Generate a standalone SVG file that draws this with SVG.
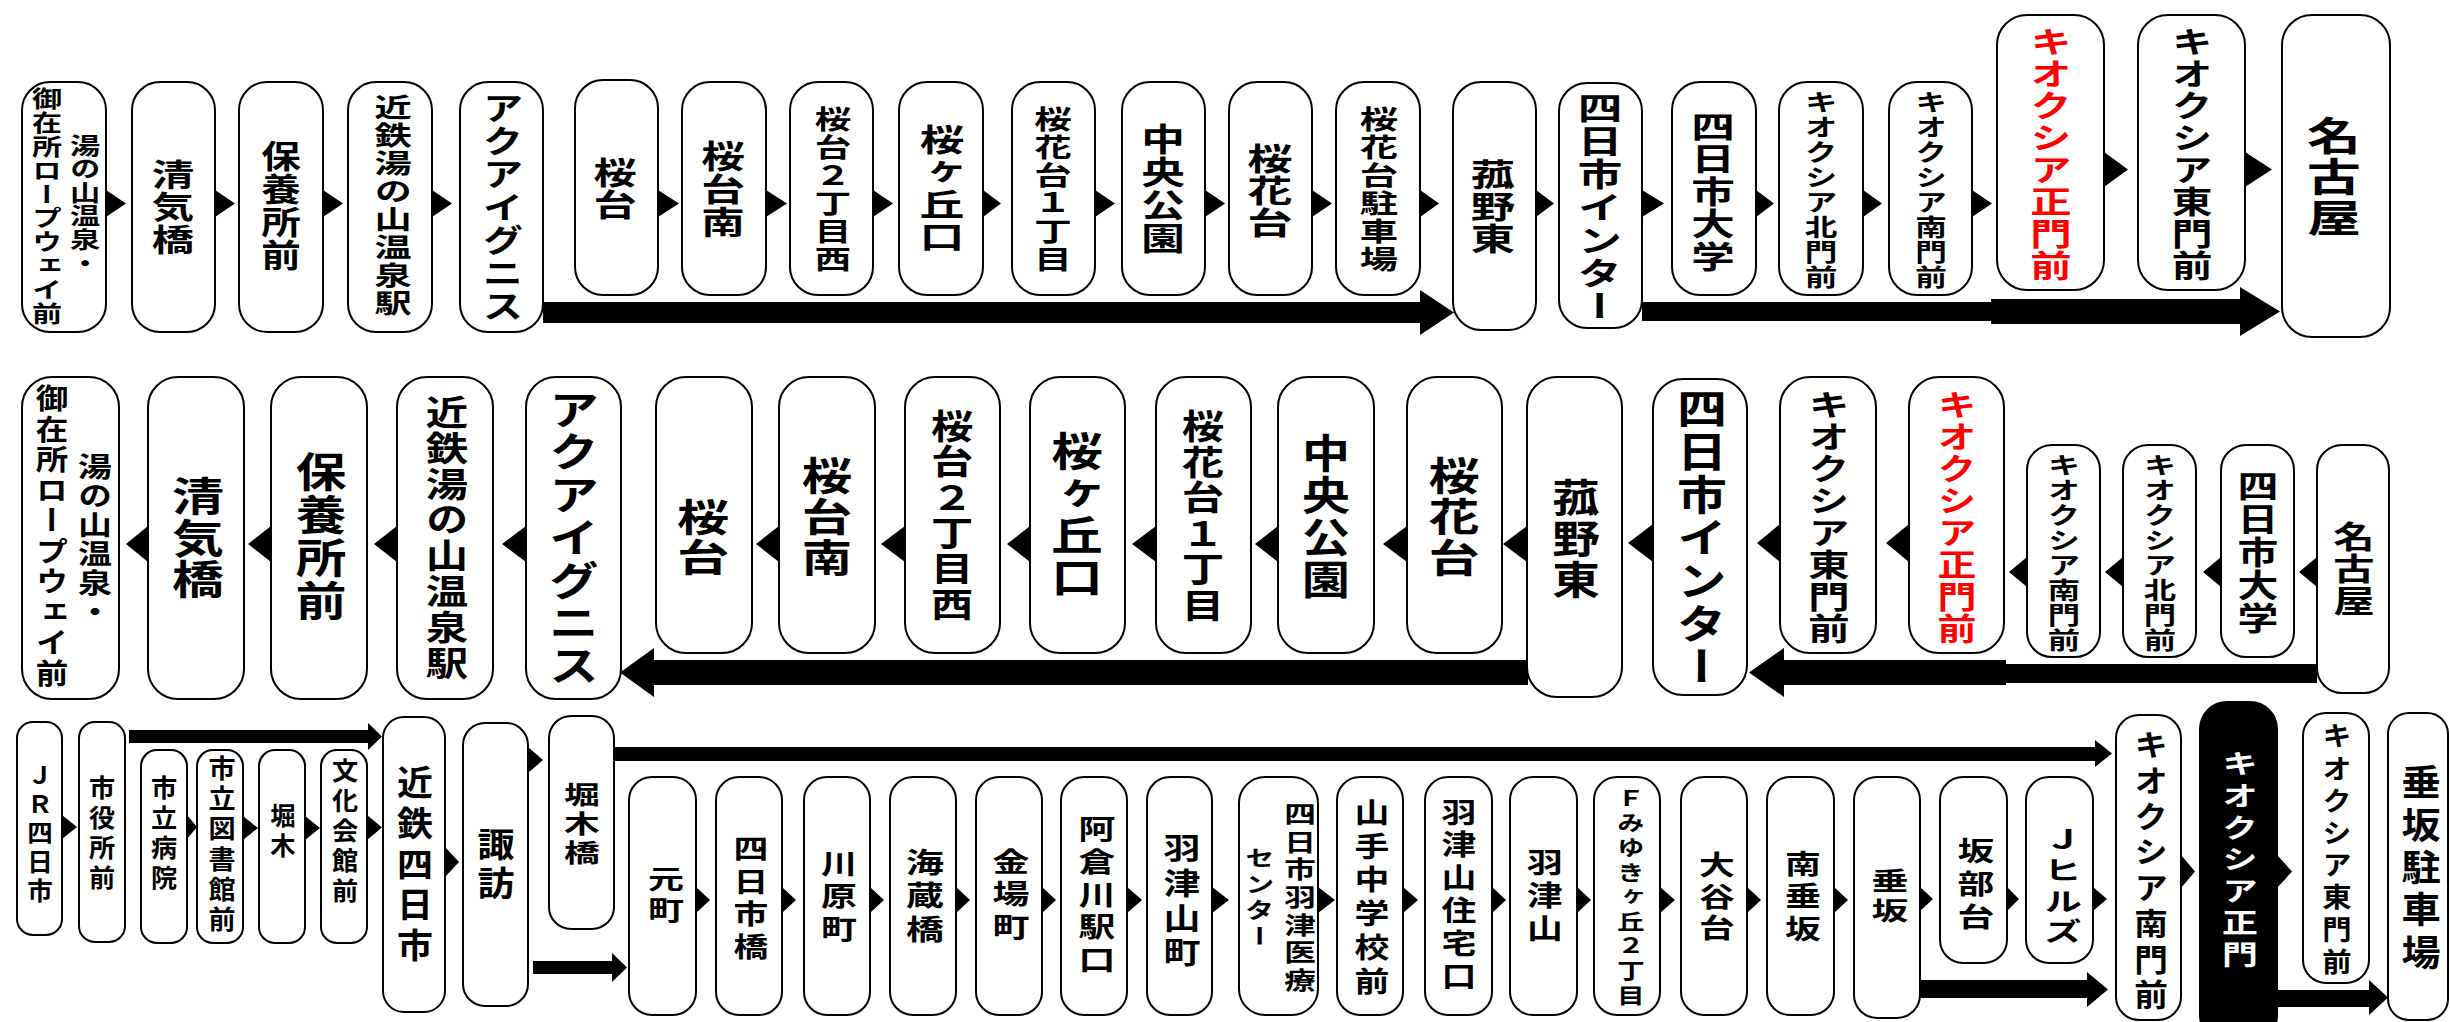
<svg xmlns="http://www.w3.org/2000/svg" width="2450" height="1022" viewBox="0 0 2450 1022">
<style>
.n rect{fill:#fff;stroke:#000;stroke-width:2}
.dk rect{fill:#000;stroke:#000;stroke-width:2}
.t{font-family:"Noto Sans CJK JP","Noto Sans CJK SC",sans-serif;font-weight:700;writing-mode:vertical-rl;text-anchor:middle;fill:#000}
.red{fill:#ff0000}
.wt{fill:#fff}
#connectors polygon{fill:#000}
</style>
<rect width="2450" height="1022" fill="#fff"/>
<g id="connectors">
<polygon points="106,190 126,203.5 106,217"/>
<polygon points="215,190 235,203.5 215,217"/>
<polygon points="323,190 343,203.5 323,217"/>
<polygon points="432,190 452,203.5 432,217"/>
<polygon points="658,190 679,203.5 658,217"/>
<polygon points="766,190 787,203.5 766,217"/>
<polygon points="873,190 893,203.5 873,217"/>
<polygon points="983,190 1001,203.5 983,217"/>
<polygon points="1095,190 1115,203.5 1095,217"/>
<polygon points="1205,190 1225,203.5 1205,217"/>
<polygon points="1312,190 1332,203.5 1312,217"/>
<polygon points="1420,190 1439,203.5 1420,217"/>
<polygon points="1536,190 1554,203.5 1536,217"/>
<polygon points="1642,190 1664,203.5 1642,217"/>
<polygon points="1756,190 1774,203.5 1756,217"/>
<polygon points="1863,190 1882,203.5 1863,217"/>
<polygon points="1972,190 1992,203.5 1972,217"/>
<polygon points="2104,152 2128,169.5 2104,187"/>
<polygon points="2245,152 2272,169.5 2245,187"/>
<polygon points="543,302 1420,302 1420,290 1454,312.5 1420,335 1420,323 543,323"/>
<polygon points="1642,302 1991,302 1991,299 2240,299 2240,287 2280,311.5 2240,336 2240,324 1991,324 1991,321 1642,321"/>
<polygon points="148,526 126,544 148,562"/>
<polygon points="271,526 248,544 271,562"/>
<polygon points="397,526 374,544 397,562"/>
<polygon points="526,526 502,544 526,562"/>
<polygon points="779,526 756,544 779,562"/>
<polygon points="905,526 881,544 905,562"/>
<polygon points="1030,526 1007,544 1030,562"/>
<polygon points="1156,526 1132,544 1156,562"/>
<polygon points="1278,526 1255,544 1278,562"/>
<polygon points="1407,526 1383,544 1407,562"/>
<polygon points="1527,526 1503,544 1527,562"/>
<polygon points="1653,524 1628,543 1653,562"/>
<polygon points="1780,524 1757,543 1780,562"/>
<polygon points="1909,524 1886,543 1909,562"/>
<polygon points="2027,557 2009,572 2027,587"/>
<polygon points="2123,557 2105,572 2123,587"/>
<polygon points="2221,557 2203,572 2221,587"/>
<polygon points="2317,557 2299,572 2317,587"/>
<polygon points="2317,664 2006,664 2006,660 1784,660 1784,648 1749,672.5 1784,697 1784,685 2006,685 2006,683 2317,683"/>
<polygon points="1528,660 654,660 654,648 620,672.5 654,697 654,685 1528,685"/>
<polygon points="62,815 77,827 62,839"/>
<polygon points="187,815 197,827 187,839"/>
<polygon points="243,816 258,828 243,840"/>
<polygon points="305,816 320,828 305,840"/>
<polygon points="367,815 382,827.5 367,840"/>
<polygon points="445,847 459,862 445,877"/>
<polygon points="528,747 543,760 528,773"/>
<polygon points="696,887 710,900 696,913"/>
<polygon points="782,887 796,900 782,913"/>
<polygon points="870,887 884,900 870,913"/>
<polygon points="956,887 970,900 956,913"/>
<polygon points="1042,887 1056,900 1042,913"/>
<polygon points="1127,887 1142,900 1127,913"/>
<polygon points="1212,887 1229,900 1212,913"/>
<polygon points="1318,887 1335,900 1318,913"/>
<polygon points="1403,887 1418,900 1403,913"/>
<polygon points="1492,887 1506,900 1492,913"/>
<polygon points="1577,887 1591,900 1577,913"/>
<polygon points="1660,887 1675,900 1660,913"/>
<polygon points="1747,887 1761,900 1747,913"/>
<polygon points="1834,887 1848,900 1834,913"/>
<polygon points="1920,887 1933,899 1920,911"/>
<polygon points="2007,887 2019,899 2007,911"/>
<polygon points="2093,887 2107,899 2093,911"/>
<polygon points="2181,855 2195,871.5 2181,888"/>
<polygon points="2277,855 2292,871.5 2277,888"/>
<polygon points="129,730 368,730 368,723 382,736.5 368,750 368,743 129,743"/>
<polygon points="533,961 612,961 612,953 627,967.5 612,982 612,974 533,974"/>
<polygon points="615,747 2095,747 2095,740 2112,753.5 2095,767 2095,761 615,761"/>
<polygon points="1920,980 2087,980 2087,972 2108,989.5 2087,1007 2087,998 1920,998"/>
<polygon points="2277,990 2369,990 2369,980 2388,997.5 2369,1015 2369,1007 2277,1007"/>
</g>

<g id="r1-yunoyama" class="n"><rect x="22" y="82" width="84" height="250" rx="28"/>
<text class="t" transform="translate(85 204.6) scale(1.35 1)" font-size="22.4" letter-spacing="1.2">湯の山温泉・</text>
<text class="t" transform="translate(47 206.6) scale(1.33 1)" font-size="22.6" letter-spacing="1.2">御在所ロープウェイ前</text></g>
<g id="r1-seikibashi" class="n"><rect x="132" y="82" width="83" height="250" rx="28"/>
<text class="t" transform="translate(173 207.3) scale(1.37 1)" font-size="30.9" letter-spacing="1.6">清気橋</text></g>
<g id="r1-hoyosyo" class="n"><rect x="239" y="82" width="84" height="250" rx="28"/>
<text class="t" transform="translate(281 206.8) scale(1.26 1)" font-size="31.4" letter-spacing="1.6">保養所前</text></g>
<g id="r1-kintetsuyunoyama" class="n"><rect x="348" y="82" width="84" height="250" rx="28"/>
<text class="t" transform="translate(393 205.7) scale(1.4 1)" font-size="26.6" letter-spacing="1.4">近鉄湯の山温泉駅</text></g>
<g id="r1-aquaignis" class="n"><rect x="460" y="82" width="83" height="250" rx="28"/>
<text class="t" transform="translate(503 208.3) scale(1.3 1)" font-size="31.4" letter-spacing="1.6">アクアイグニス</text></g>
<g id="r1-sakuradai" class="n"><rect x="575" y="80" width="83" height="215" rx="28"/>
<text class="t" transform="translate(615 189.3) scale(1.42 1)" font-size="30.4" letter-spacing="1.6">桜台</text></g>
<g id="r1-sakuradaiminami" class="n"><rect x="682" y="82" width="84" height="213" rx="28"/>
<text class="t" transform="translate(723 189.8) scale(1.39 1)" font-size="31.4" letter-spacing="1.6">桜台南</text></g>
<g id="r1-sakuradai2" class="n"><rect x="790" y="82" width="83" height="213" rx="28"/>
<text class="t" transform="translate(833 189.7) scale(1.37 1)" font-size="26.6" letter-spacing="1.4">桜台２丁目西</text></g>
<g id="r1-sakuragaoka" class="n"><rect x="899" y="82" width="84" height="213" rx="28"/>
<text class="t" transform="translate(942 188.8) scale(1.44 1)" font-size="30.9" letter-spacing="1.6">桜ヶ丘口</text></g>
<g id="r1-okadai1" class="n"><rect x="1012" y="82" width="83" height="213" rx="28"/>
<text class="t" transform="translate(1053 189.2) scale(1.41 1)" font-size="26.6" letter-spacing="1.4">桜花台１丁目</text></g>
<g id="r1-chuokoen" class="n"><rect x="1122" y="82" width="83" height="213" rx="28"/>
<text class="t" transform="translate(1163 189.8) scale(1.39 1)" font-size="31.4" letter-spacing="1.6">中央公園</text></g>
<g id="r1-okadai" class="n"><rect x="1229" y="82" width="83" height="213" rx="28"/>
<text class="t" transform="translate(1270 190.8) scale(1.49 1)" font-size="30.4" letter-spacing="1.6">桜花台</text></g>
<g id="r1-okadaiparking" class="n"><rect x="1336" y="82" width="84" height="213" rx="28"/>
<text class="t" transform="translate(1379 189.2) scale(1.44 1)" font-size="26.6" letter-spacing="1.4">桜花台駐車場</text></g>
<g id="r1-komonohigashi" class="n"><rect x="1453" y="82" width="83" height="248" rx="28"/>
<text class="t" transform="translate(1493 207.3) scale(1.46 1)" font-size="30.4" letter-spacing="1.6">菰野東</text></g>
<g id="r1-inter" class="n"><rect x="1559" y="83" width="83" height="245" rx="28"/>
<text class="t" transform="translate(1600 207.8) scale(1.42 1)" font-size="31.4" letter-spacing="1.6">四日市インター</text></g>
<g id="r1-univ" class="n"><rect x="1672" y="82" width="84" height="213" rx="28"/>
<text class="t" transform="translate(1713 191.8) scale(1.41 1)" font-size="30.9" letter-spacing="1.6">四日市大学</text></g>
<g id="r1-kitamon" class="n"><rect x="1779" y="82" width="84" height="213" rx="28"/>
<text class="t" transform="translate(1821 189.6) scale(1.37 1)" font-size="23.8" letter-spacing="1.2">キオクシア北門前</text></g>
<g id="r1-minamimon" class="n"><rect x="1889" y="82" width="83" height="213" rx="28"/>
<text class="t" transform="translate(1931 189.6) scale(1.33 1)" font-size="23.8" letter-spacing="1.2">キオクシア南門前</text></g>
<g id="r1-seimon" class="n"><rect x="1997" y="15" width="107" height="275" rx="30"/>
<text class="t red" transform="translate(2051 154.3) scale(1.36 1)" font-size="30.4" letter-spacing="1.6">キオクシア正門前</text></g>
<g id="r1-higashimon" class="n"><rect x="2138" y="15" width="107" height="275" rx="30"/>
<text class="t" transform="translate(2192 154.3) scale(1.34 1)" font-size="30.4" letter-spacing="1.6">キオクシア東門前</text></g>
<g id="r1-nagoya" class="n"><rect x="2282" y="15" width="108" height="322" rx="30"/>
<text class="t" transform="translate(2334 177.5) scale(1.38 1)" font-size="39" letter-spacing="2">名古屋</text></g>

<g id="r2-yunoyama" class="n"><rect x="22" y="377" width="97" height="322" rx="30"/>
<text class="t" transform="translate(95 539.7) scale(1.23 1)" font-size="27.6" letter-spacing="1.4">湯の山温泉・</text>
<text class="t" transform="translate(52 536.3) scale(1.12 1)" font-size="29" letter-spacing="1.5">御在所ロープウェイ前</text></g>
<g id="r2-seikibashi" class="n"><rect x="148" y="377" width="96" height="322" rx="30"/>
<text class="t" transform="translate(198 538.5) scale(1.31 1)" font-size="39.6" letter-spacing="2.1">清気橋</text></g>
<g id="r2-hoyosyo" class="n"><rect x="271" y="377" width="96" height="322" rx="30"/>
<text class="t" transform="translate(321 537) scale(1.24 1)" font-size="40.9" letter-spacing="2.1">保養所前</text></g>
<g id="r2-kintetsuyunoyama" class="n"><rect x="397" y="377" width="96" height="322" rx="30"/>
<text class="t" transform="translate(447 538.4) scale(1.24 1)" font-size="34.2" letter-spacing="1.8">近鉄湯の山温泉駅</text></g>
<g id="r2-aquaignis" class="n"><rect x="526" y="377" width="95" height="322" rx="30"/>
<text class="t" transform="translate(574 538.5) scale(1.24 1)" font-size="40.6" letter-spacing="2.1">アクアイグニス</text></g>
<g id="r2-sakuradai" class="n"><rect x="656" y="377" width="96" height="276" rx="30"/>
<text class="t" transform="translate(703 538) scale(1.37 1)" font-size="38" letter-spacing="2">桜台</text></g>
<g id="r2-sakuradaiminami" class="n"><rect x="779" y="377" width="96" height="276" rx="30"/>
<text class="t" transform="translate(827 517.5) scale(1.29 1)" font-size="39" letter-spacing="2">桜台南</text></g>
<g id="r2-sakuradai2" class="n"><rect x="905" y="377" width="95" height="276" rx="30"/>
<text class="t" transform="translate(952 515.9) scale(1.25 1)" font-size="33.8" letter-spacing="1.8">桜台２丁目西</text></g>
<g id="r2-sakuragaoka" class="n"><rect x="1030" y="377" width="95" height="276" rx="30"/>
<text class="t" transform="translate(1077 515) scale(1.29 1)" font-size="39.9" letter-spacing="2.1">桜ヶ丘口</text></g>
<g id="r2-okadai1" class="n"><rect x="1156" y="377" width="95" height="276" rx="30"/>
<text class="t" transform="translate(1203 516.4) scale(1.24 1)" font-size="34.2" letter-spacing="1.8">桜花台１丁目</text></g>
<g id="r2-chuokoen" class="n"><rect x="1278" y="377" width="96" height="276" rx="30"/>
<text class="t" transform="translate(1326 517) scale(1.2 1)" font-size="39.9" letter-spacing="2.1">中央公園</text></g>
<g id="r2-okadai" class="n"><rect x="1407" y="377" width="95" height="276" rx="30"/>
<text class="t" transform="translate(1454 517.5) scale(1.31 1)" font-size="39" letter-spacing="2">桜花台</text></g>
<g id="r2-komonohigashi" class="n"><rect x="1527" y="377" width="95" height="320" rx="30"/>
<text class="t" transform="translate(1576 539.5) scale(1.22 1)" font-size="39" letter-spacing="2">菰野東</text></g>
<g id="r2-inter" class="n"><rect x="1653" y="379" width="94" height="316" rx="30"/>
<text class="t" transform="translate(1702 539) scale(1.22 1)" font-size="40.9" letter-spacing="2.1">四日市インター</text></g>
<g id="r2-higashimon" class="n"><rect x="1780" y="377" width="96" height="276" rx="30"/>
<text class="t" transform="translate(1829 517.3) scale(1.36 1)" font-size="30.4" letter-spacing="1.6">キオクシア東門前</text></g>
<g id="r2-seimon" class="n"><rect x="1909" y="377" width="95" height="276" rx="30"/>
<text class="t red" transform="translate(1957 517.3) scale(1.28 1)" font-size="30.4" letter-spacing="1.6">キオクシア正門前</text></g>
<g id="r2-minamimon" class="n"><rect x="2027" y="445" width="73" height="212" rx="25"/>
<text class="t" transform="translate(2064 552.6) scale(1.36 1)" font-size="23.8" letter-spacing="1.2">キオクシア南門前</text></g>
<g id="r2-kitamon" class="n"><rect x="2123" y="445" width="73" height="212" rx="25"/>
<text class="t" transform="translate(2160 552.6) scale(1.36 1)" font-size="23.8" letter-spacing="1.2">キオクシア北門前</text></g>
<g id="r2-univ" class="n"><rect x="2221" y="445" width="73" height="212" rx="25"/>
<text class="t" transform="translate(2258 553.3) scale(1.3 1)" font-size="31.4" letter-spacing="1.6">四日市大学</text></g>
<g id="r2-nagoya" class="n"><rect x="2317" y="445" width="72" height="248" rx="25"/>
<text class="t" transform="translate(2354 569.3) scale(1.36 1)" font-size="30.4" letter-spacing="1.6">名古屋</text></g>

<g id="r3-jr" class="n"><rect x="17" y="722" width="45" height="213" rx="16"/>
<text class="t" transform="translate(40 835) scale(1.04 1)" font-size="24.5" letter-spacing="4.4">ＪＲ四日市</text></g>
<g id="r3-shiyakusho" class="n"><rect x="79" y="722" width="46" height="220" rx="16"/>
<text class="t" transform="translate(102 834.5) scale(1.03 1)" font-size="25.4" letter-spacing="4.5">市役所前</text></g>
<g id="r3-byoin" class="n"><rect x="141" y="750" width="46" height="193" rx="16"/>
<text class="t" transform="translate(164 834.5) scale(1.03 1)" font-size="25.4" letter-spacing="4.5">市立病院</text></g>
<g id="r3-toshokan" class="n"><rect x="197" y="750" width="46" height="193" rx="16"/>
<text class="t" transform="translate(222 846) scale(1.05 1)" font-size="25.8" letter-spacing="4.6">市立図書館前</text></g>
<g id="r3-horiki" class="n"><rect x="259" y="750" width="46" height="193" rx="16"/>
<text class="t" transform="translate(283 832.5)" font-size="25.3" letter-spacing="4.4">堀木</text></g>
<g id="r3-bunka" class="n"><rect x="321" y="750" width="46" height="193" rx="16"/>
<text class="t" transform="translate(345 832.5) scale(1.03 1)" font-size="25.4" letter-spacing="4.5">文化会館前</text></g>
<g id="r3-kintetsuyokkaichi" class="n"><rect x="383" y="717" width="62" height="295" rx="21"/>
<text class="t" transform="translate(415 866.5) scale(1.04 1)" font-size="34.5" letter-spacing="6.1">近鉄四日市</text></g>
<g id="r3-suwa" class="n"><rect x="463" y="723" width="65" height="283" rx="22"/>
<text class="t" transform="translate(496 866.5) scale(1.1 1)" font-size="33.6" letter-spacing="5.9">諏訪</text></g>
<g id="r3-horikibashi" class="n"><rect x="549" y="716" width="65" height="213" rx="22"/>
<text class="t" transform="translate(582 825.5) scale(1.45 1)" font-size="24.7" letter-spacing="4.4">堀木橋</text></g>
<g id="r3-motomachi" class="n"><rect x="629" y="777" width="67" height="238" rx="23"/>
<text class="t" transform="translate(666 897) scale(1.4 1)" font-size="25.7" letter-spacing="4.6">元町</text></g>
<g id="r3-yokkaichibashi" class="n"><rect x="716" y="777" width="66" height="238" rx="23"/>
<text class="t" transform="translate(751 900) scale(1.26 1)" font-size="27.6" letter-spacing="4.9">四日市橋</text></g>
<g id="r3-kawaramachi" class="n"><rect x="804" y="777" width="66" height="238" rx="23"/>
<text class="t" transform="translate(839 898.5) scale(1.31 1)" font-size="27.4" letter-spacing="4.9">川原町</text></g>
<g id="r3-kaizobashi" class="n"><rect x="890" y="777" width="66" height="238" rx="23"/>
<text class="t" transform="translate(925 898) scale(1.34 1)" font-size="28.3" letter-spacing="5">海蔵橋</text></g>
<g id="r3-kanebacho" class="n"><rect x="976" y="777" width="66" height="238" rx="23"/>
<text class="t" transform="translate(1011 896.5) scale(1.35 1)" font-size="27.4" letter-spacing="4.9">金場町</text></g>
<g id="r3-akuragawa" class="n"><rect x="1061" y="777" width="66" height="238" rx="23"/>
<text class="t" transform="translate(1097 896.5) scale(1.33 1)" font-size="27.7" letter-spacing="4.9">阿倉川駅口</text></g>
<g id="r3-hazuyamacho" class="n"><rect x="1147" y="777" width="65" height="238" rx="23"/>
<text class="t" transform="translate(1182 902.5) scale(1.25 1)" font-size="29.6" letter-spacing="5.2">羽津山町</text></g>
<g id="r3-hazuiryo" class="n"><rect x="1239" y="777" width="79" height="238" rx="26"/>
<text class="t" transform="translate(1300 899) scale(1.34 1)" font-size="23.6" letter-spacing="4.1">四日市羽津医療</text>
<text class="t" transform="translate(1260 899) scale(1.33 1)" font-size="22" letter-spacing="4">センター</text></g>
<g id="r3-yamate" class="n"><rect x="1337" y="777" width="66" height="238" rx="23"/>
<text class="t" transform="translate(1372 899) scale(1.22 1)" font-size="28.6" letter-spacing="5.1">山手中学校前</text></g>
<g id="r3-hazuyamajutaku" class="n"><rect x="1425" y="777" width="67" height="238" rx="23"/>
<text class="t" transform="translate(1459 896.5) scale(1.25 1)" font-size="27.9" letter-spacing="4.9">羽津山住宅口</text></g>
<g id="r3-hazuyama" class="n"><rect x="1510" y="777" width="67" height="238" rx="23"/>
<text class="t" transform="translate(1545 897.5) scale(1.28 1)" font-size="28" letter-spacing="5">羽津山</text></g>
<g id="r3-miyukigaoka" class="n"><rect x="1594" y="777" width="66" height="238" rx="23"/>
<text class="t" transform="translate(1631 898) scale(1.3 1)" font-size="21" letter-spacing="3.6">Ｆみゆきヶ丘２丁目</text></g>
<g id="r3-otanidai" class="n"><rect x="1681" y="777" width="66" height="238" rx="23"/>
<text class="t" transform="translate(1717 899) scale(1.33 1)" font-size="26.9" letter-spacing="4.7">大谷台</text></g>
<g id="r3-minamitarusaka" class="n"><rect x="1767" y="777" width="67" height="238" rx="23"/>
<text class="t" transform="translate(1803 898.5) scale(1.31 1)" font-size="27.4" letter-spacing="4.9">南垂坂</text></g>
<g id="r3-tarusaka" class="n"><rect x="1854" y="777" width="66" height="241" rx="23"/>
<text class="t" transform="translate(1890 897.5) scale(1.46 1)" font-size="25.3" letter-spacing="4.4">垂坂</text></g>
<g id="r3-sakabedai" class="n"><rect x="1940" y="777" width="67" height="186" rx="23"/>
<text class="t" transform="translate(1976 886) scale(1.33 1)" font-size="27.7" letter-spacing="4.9">坂部台</text></g>
<g id="r3-jhills" class="n"><rect x="2026" y="777" width="67" height="186" rx="23"/>
<text class="t" transform="translate(2063 888) scale(1.46 1)" font-size="26" letter-spacing="4.6">Ｊヒルズ</text></g>
<g id="r3-minamimon" class="n"><rect x="2116" y="715" width="65" height="305" rx="23"/>
<text class="t" transform="translate(2151 872.5) scale(1.11 1)" font-size="30.3" letter-spacing="5.4">キオクシア南門前</text></g>
<g id="r3-seimon" class="dk"><rect x="2200" y="702" width="77" height="340" rx="27"/>
<text class="t wt" transform="translate(2240 861.5) scale(1.33 1)" font-size="27" letter-spacing="4.8">キオクシア正門</text></g>
<g id="r3-higashimon" class="n"><rect x="2303" y="713" width="66" height="270" rx="23"/>
<text class="t" transform="translate(2337 851) scale(1.07 1)" font-size="27.4" letter-spacing="4.8">キオクシア東門前</text></g>
<g id="r3-tarusakaparking" class="n"><rect x="2388" y="713" width="60" height="307" rx="21"/>
<text class="t" transform="translate(2421 870.5) scale(1.09 1)" font-size="36" letter-spacing="6.3">垂坂駐車場</text></g>
</svg>
